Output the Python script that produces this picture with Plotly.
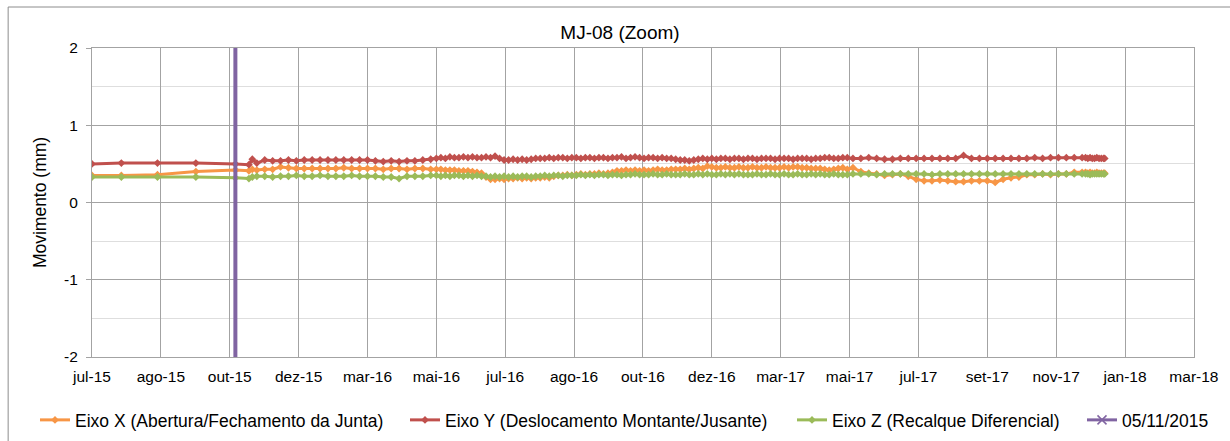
import pandas as pd
import plotly.graph_objects as go

# ---- readings (date of survey) --------------------------------------------
dates = [
    "2015-07-01", "2015-07-27", "2015-08-28", "2015-10-01", "2015-11-05",
    "2015-11-17", "2015-11-20", "2015-11-24", "2015-12-01", "2015-12-08",
    "2015-12-15", "2015-12-22", "2015-12-29", "2016-01-05", "2016-01-12",
    "2016-01-19", "2016-01-26", "2016-02-02", "2016-02-09", "2016-02-16",
    "2016-02-23", "2016-03-01", "2016-03-08", "2016-03-15", "2016-03-22",
    "2016-03-29", "2016-04-05", "2016-04-12", "2016-04-19", "2016-04-26",
    "2016-05-01", "2016-05-05", "2016-05-09", "2016-05-13", "2016-05-17",
    "2016-05-21", "2016-05-25", "2016-05-29",
    "2016-06-02", "2016-06-06", "2016-06-10", "2016-06-14", "2016-06-18",
    "2016-06-22", "2016-06-26", "2016-06-30",
    "2016-07-04", "2016-07-08", "2016-07-12", "2016-07-16", "2016-07-20",
    "2016-07-24", "2016-07-28",
    "2016-08-01", "2016-08-05", "2016-08-09", "2016-08-13", "2016-08-17",
    "2016-08-21", "2016-08-25", "2016-08-29",
    "2016-09-02", "2016-09-06", "2016-09-10", "2016-09-14", "2016-09-18",
    "2016-09-22", "2016-09-26", "2016-09-30",
    "2016-10-04", "2016-10-08", "2016-10-12", "2016-10-16", "2016-10-20",
    "2016-10-24", "2016-10-28",
    "2016-11-01", "2016-11-05", "2016-11-09", "2016-11-13", "2016-11-17",
    "2016-11-21", "2016-11-25", "2016-11-29",
    "2016-12-03", "2016-12-07", "2016-12-11", "2016-12-15", "2016-12-19",
    "2016-12-23", "2016-12-27", "2016-12-31",
    "2017-01-04", "2017-01-08", "2017-01-12", "2017-01-16", "2017-01-20",
    "2017-01-24", "2017-01-28",
    "2017-02-01", "2017-02-05", "2017-02-09", "2017-02-13", "2017-02-17",
    "2017-02-21", "2017-02-25",
    "2017-03-01", "2017-03-05", "2017-03-09", "2017-03-13", "2017-03-17",
    "2017-03-21", "2017-03-25", "2017-03-29",
    "2017-04-02", "2017-04-06", "2017-04-10", "2017-04-14", "2017-04-18",
    "2017-04-22", "2017-04-26", "2017-04-30",
    "2017-05-05", "2017-05-12", "2017-05-19", "2017-05-26", "2017-06-02",
    "2017-06-09", "2017-06-16", "2017-06-23", "2017-06-30", "2017-07-07",
    "2017-07-14", "2017-07-21", "2017-07-28", "2017-08-04", "2017-08-11",
    "2017-08-18", "2017-08-25", "2017-09-01", "2017-09-08", "2017-09-15",
    "2017-09-22", "2017-09-29", "2017-10-06", "2017-10-13", "2017-10-20",
    "2017-10-27", "2017-11-03", "2017-11-10", "2017-11-17", "2017-11-24",
    "2017-11-27", "2017-11-29", "2017-12-01", "2017-12-03", "2017-12-05",
    "2017-12-07", "2017-12-09", "2017-12-11", "2017-12-13", "2017-12-14",
]

# Eixo X - abertura/fechamento da junta (mm)
eixo_x = [
    0.35, 0.35, 0.36, 0.40, 0.42,
    0.41, 0.43, 0.42, 0.43, 0.43, 0.46, 0.45, 0.44, 0.44, 0.44,
    0.44, 0.44, 0.44, 0.45, 0.44, 0.44, 0.44, 0.44, 0.43, 0.44,
    0.44, 0.43, 0.44, 0.44, 0.43,
    0.43, 0.43, 0.42, 0.42, 0.42, 0.41, 0.41, 0.41,
    0.40, 0.39, 0.38, 0.33, 0.30, 0.30, 0.31, 0.30,
    0.31, 0.31, 0.32, 0.31, 0.32, 0.31, 0.32,
    0.32, 0.33, 0.32, 0.34, 0.35, 0.35, 0.36, 0.35,
    0.36, 0.37, 0.36, 0.37, 0.37, 0.38, 0.37, 0.38,
    0.39, 0.41, 0.41, 0.42, 0.41, 0.42, 0.41,
    0.42, 0.41, 0.42, 0.43, 0.42, 0.42, 0.43, 0.43,
    0.43, 0.44, 0.43, 0.44, 0.45, 0.44, 0.47, 0.46,
    0.45, 0.45, 0.46, 0.45, 0.45, 0.46, 0.45,
    0.45, 0.46, 0.45, 0.45, 0.46, 0.45, 0.45,
    0.45, 0.46, 0.45, 0.46, 0.46, 0.45, 0.45, 0.44,
    0.44, 0.44, 0.43, 0.42, 0.43, 0.44, 0.45, 0.43,
    0.45, 0.40, 0.38, 0.37, 0.35, 0.36, 0.37, 0.34, 0.30, 0.28,
    0.28, 0.29, 0.28, 0.27, 0.27, 0.28, 0.28, 0.28, 0.26, 0.30,
    0.32, 0.33, 0.36, 0.36, 0.37, 0.36, 0.37, 0.37, 0.39, 0.39,
    0.39, 0.38, 0.39, 0.38, 0.38, 0.39, 0.38, 0.38, 0.38, 0.38,
]

# Eixo Y - deslocamento montante/jusante (mm)
eixo_y = [
    0.50, 0.51, 0.51, 0.51, 0.50,
    0.49, 0.56, 0.51, 0.55, 0.54, 0.54, 0.55, 0.54, 0.55, 0.55,
    0.55, 0.55, 0.55, 0.55, 0.55, 0.55, 0.55, 0.54, 0.53, 0.54,
    0.53, 0.54, 0.54, 0.55, 0.56,
    0.57, 0.58, 0.57, 0.59, 0.58, 0.58, 0.59, 0.58,
    0.59, 0.58, 0.58, 0.59, 0.58, 0.60, 0.57, 0.55,
    0.55, 0.56, 0.55, 0.56, 0.55, 0.56, 0.57,
    0.57, 0.57, 0.58, 0.57, 0.58, 0.58, 0.57, 0.58,
    0.58, 0.57, 0.58, 0.58, 0.57, 0.58, 0.58, 0.57,
    0.58, 0.58, 0.59, 0.57, 0.58, 0.59, 0.58,
    0.57, 0.58, 0.58, 0.57, 0.58, 0.57, 0.57, 0.56,
    0.55, 0.55, 0.54, 0.55, 0.56, 0.57, 0.56, 0.57,
    0.56, 0.57, 0.57, 0.56, 0.57, 0.57, 0.56,
    0.57, 0.57, 0.56, 0.57, 0.57, 0.57, 0.56,
    0.57, 0.57, 0.57, 0.56, 0.57, 0.57, 0.57, 0.56,
    0.57, 0.57, 0.58, 0.58, 0.57, 0.57, 0.58, 0.58,
    0.57, 0.57, 0.58, 0.57, 0.56, 0.56, 0.57, 0.57, 0.57, 0.57,
    0.57, 0.57, 0.57, 0.57, 0.61, 0.57, 0.57, 0.57, 0.57, 0.57,
    0.57, 0.57, 0.57, 0.58, 0.57, 0.58, 0.58, 0.58, 0.58, 0.58,
    0.58, 0.57, 0.58, 0.57, 0.57, 0.58, 0.57, 0.57, 0.57, 0.57,
]

# Eixo Z - recalque diferencial (mm)
eixo_z = [
    0.33, 0.33, 0.33, 0.33, 0.32,
    0.31, 0.33, 0.34, 0.34, 0.33, 0.34, 0.34, 0.35, 0.34, 0.34,
    0.35, 0.34, 0.34, 0.34, 0.35, 0.34, 0.34, 0.34, 0.33, 0.33,
    0.31, 0.34, 0.34, 0.34, 0.35,
    0.35, 0.34, 0.35, 0.34, 0.35, 0.35, 0.34, 0.35,
    0.34, 0.35, 0.34, 0.34, 0.33, 0.34, 0.33, 0.34,
    0.33, 0.34, 0.33, 0.34, 0.34, 0.33, 0.34,
    0.34, 0.35, 0.34, 0.35, 0.35, 0.34, 0.35, 0.35,
    0.35, 0.36, 0.35, 0.36, 0.35, 0.36, 0.36, 0.35,
    0.36, 0.36, 0.35, 0.36, 0.36, 0.37, 0.36,
    0.36, 0.36, 0.37, 0.36, 0.36, 0.37, 0.36, 0.36,
    0.36, 0.37, 0.36, 0.36, 0.37, 0.36, 0.37, 0.36,
    0.36, 0.37, 0.36, 0.37, 0.36, 0.37, 0.36,
    0.36, 0.36, 0.37, 0.36, 0.36, 0.37, 0.36,
    0.36, 0.37, 0.36, 0.36, 0.37, 0.36, 0.36, 0.37,
    0.36, 0.37, 0.36, 0.36, 0.37, 0.36, 0.36, 0.36,
    0.37, 0.37, 0.37, 0.36, 0.37, 0.37, 0.37, 0.37, 0.37, 0.37,
    0.36, 0.37, 0.37, 0.37, 0.37, 0.37, 0.37, 0.37, 0.37, 0.37,
    0.37, 0.37, 0.37, 0.37, 0.37, 0.37, 0.37, 0.37, 0.37, 0.37,
    0.37, 0.37, 0.36, 0.37, 0.37, 0.37, 0.37, 0.37, 0.37, 0.37,
]

# reference date marker
event_label = "05/11/2015"
event_date = "2015-11-05"

series_names = [
    "Eixo X (Abertura/Fechamento da Junta)",
    "Eixo Y (Deslocamento Montante/Jusante)",
    "Eixo Z (Recalque Diferencial)",
]

# x axis: date axis, major unit of 61 days starting on 01/07/2015
axis_start = "2015-07-01"
tick_step_days = 61
tick_labels = [
    "jul-15", "ago-15", "out-15", "dez-15", "mar-16", "mai-16", "jul-16",
    "ago-16", "out-16", "dez-16", "mar-17", "mai-17", "jul-17", "set-17",
    "nov-17", "jan-18", "mar-18",
]
# y axis
y_range = [-2, 2]
y_tick_vals = [-2, -1, 0, 1, 2]
y_tick_labels = ["-2", "-1", "0", "1", "2"]

# ---- figure ----------------------------------------------------------------
FONT = "Arial, 'Liberation Sans', sans-serif"
COLORS = ["#F79646", "#C0504D", "#9BBB59"]
EVENT_COLOR = "#8064A2"
GRID = "#A3A3A3"

start = pd.Timestamp(axis_start)
tick_vals = [start + pd.Timedelta(days=tick_step_days * i) for i in range(len(tick_labels))]
x_end = tick_vals[-1] + pd.Timedelta(hours=2)

fig = go.Figure()

legend_ids = ["legend", "legend2", "legend3", "legend4"]
for name, vals, color, lg in zip(series_names, [eixo_x, eixo_y, eixo_z], COLORS, legend_ids):
    fig.add_trace(go.Scatter(
        x=dates, y=vals, name=name, mode="lines+markers",
        line=dict(color=color, width=3),
        marker=dict(symbol="diamond", size=6, color=color),
        legend=lg,
    ))

# vertical line at the reference date
fig.add_trace(go.Scatter(
    x=[event_date, event_date], y=y_range, mode="lines",
    line=dict(color=EVENT_COLOR, width=4), showlegend=False,
    legendgroup="event",
))
# legend entry for the reference date (line with X marker)
fig.add_trace(go.Scatter(
    x=[None], y=[None], name=event_label, mode="lines+markers",
    line=dict(color=EVENT_COLOR, width=3),
    marker=dict(symbol="x-thin", size=9, line=dict(color=EVENT_COLOR, width=1.5)),
    legend="legend4", legendgroup="event",
))

W, H = 1230, 441
L, R, T, B = 92, 1196, 48, 357

legend_common = dict(
    orientation="h", xref="container", yref="container",
    yanchor="middle", y=1 - 420 / H, xanchor="left",
    bgcolor="rgba(0,0,0,0)", borderwidth=0,
    font=dict(family=FONT, size=17.5, color="#000000"),
)
icon_starts = [40, 410, 797, 1087]

layout_legends = {}
for lg, xs in zip(legend_ids, icon_starts):
    d = dict(legend_common)
    d["x"] = (xs - 5) / W
    layout_legends[lg] = d

fig.update_layout(
    width=W, height=H,
    margin=dict(l=L, r=W - R, t=T, b=H - B),
    paper_bgcolor="white", plot_bgcolor="white",
    font=dict(family=FONT, color="#000000"),
    title=dict(
        text="MJ-08 (Zoom)", x=620 / W, xref="container", xanchor="center",
        y=1 - 32 / H, yref="container", yanchor="middle",
        font=dict(family=FONT, size=19, color="#000000"),
    ),
    showlegend=True,
    **layout_legends,
    xaxis=dict(
        type="date", range=[start, x_end],
        tickmode="array", tickvals=tick_vals, ticktext=tick_labels,
        showgrid=True, gridcolor=GRID, gridwidth=1,
        showline=True, linecolor=GRID, linewidth=1, mirror=True,
        ticks="", zeroline=False, ticklabelstandoff=5,
        tickfont=dict(family=FONT, size=15.5, color="#000000"),
    ),
    yaxis=dict(
        range=y_range, tickmode="array", tickvals=y_tick_vals, ticktext=y_tick_labels,
        showgrid=True, gridcolor=GRID, gridwidth=1,
        minor=dict(dtick=0.5, tick0=0, showgrid=True, gridcolor="#DEDEDE", gridwidth=1),
        showline=True, linecolor=GRID, linewidth=1, mirror=True,
        ticks="outside", ticklen=5, tickcolor=GRID,
        zeroline=False, ticklabelstandoff=5,
        tickfont=dict(family=FONT, size=15.5, color="#000000"),
        title=dict(text="Movimento (mm)", standoff=12,
                   font=dict(family=FONT, size=17.5, color="#000000")),
    ),
    shapes=[dict(
        type="rect", xref="paper", yref="paper",
        x0=(8 - L) / (R - L), x1=1.2,
        y0=-0.5, y1=(B - 7) / (B - T),
        line=dict(color="#8C8C8C", width=1), fillcolor="rgba(0,0,0,0)",
    )],
)

fig.write_html("out.html")
